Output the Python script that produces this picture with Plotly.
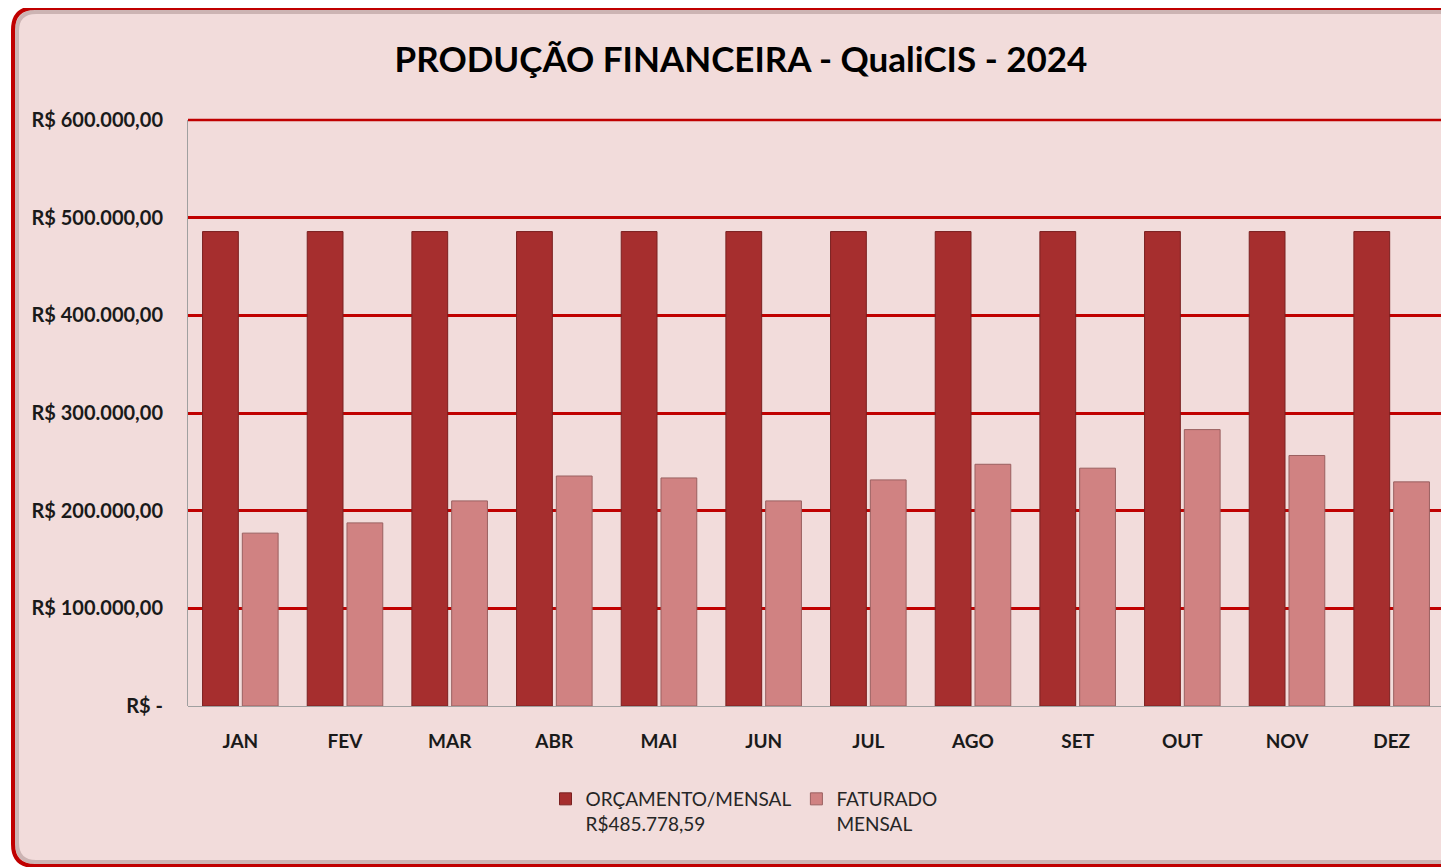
import plotly.graph_objects as go

months = ["JAN", "FEV", "MAR", "ABR", "MAI", "JUN", "JUL", "AGO", "SET", "OUT", "NOV", "DEZ"]
orcamento = [485778.59] * 12
faturado = [177000, 187500, 210000, 235500, 233500, 210000, 231500, 247500, 243500, 283000, 256500, 229500]
y_ticks = [0, 100000, 200000, 300000, 400000, 500000, 600000]
y_tick_labels = ["R$ -", "R$ 100.000,00", "R$ 200.000,00", "R$ 300.000,00",
                 "R$ 400.000,00", "R$ 500.000,00", "R$ 600.000,00"]

OFF = 8  # page body margin
W, H = 1449 - OFF, 867 - OFF
L, R, T, B = 188 - OFF, 5, 120 - OFF, 161
pw, ph = W - L - R, H - T - B

def px(x):
    return (x - OFF - L) / pw

def py(y):
    return (H - B - (y - OFF)) / ph

FONT = "Lato"

fig = go.Figure()
fig.add_trace(go.Bar(
    x=months, y=orcamento, name="ORÇAMENTO/MENSAL<br>R$485.778,59",
    marker=dict(color="#a62e2e", line=dict(color="#7a2020", width=1)),
))
fig.add_trace(go.Bar(
    x=months, y=faturado, name="FATURADO<br>MENSAL",
    marker=dict(color="#d08282", line=dict(color="#9a6060", width=1)),
))

# rounded border
def rounded(xa, ya, xb, yb, r):
    x0, x1 = px(xa), px(xb)
    y0, y1 = py(ya), py(yb)
    rx, ry = r / pw, r / ph
    return (f"M {x0+rx},{y0} L {x1-rx},{y0} Q {x1},{y0} {x1},{y0-ry} "
            f"L {x1},{y1+ry} Q {x1},{y1} {x1-rx},{y1} L {x0+rx},{y1} "
            f"Q {x0},{y1} {x0},{y1+ry} L {x0},{y0-ry} Q {x0},{y0} {x0+rx},{y0} Z")

fig.add_shape(type="path", path=rounded(13, 8, 1480, 866, 22), xref="paper", yref="paper",
              fillcolor="#f2dcdb", line=dict(color="#c00000", width=4), layer="below")
fig.add_shape(type="path", path=rounded(17, 12, 1476, 862, 19), xref="paper", yref="paper",
              fillcolor="rgba(0,0,0,0)", line=dict(color="rgba(90,60,60,0.25)", width=4),
              layer="below")
# top gridline at the range edge (paper ref so it is not clipped)
fig.add_shape(type="line", xref="paper", yref="paper", x0=0, x1=1, y0=1, y1=1,
              line=dict(color="#c00000", width=2.5), layer="below")

fig.update_layout(
    width=W, height=H,
    margin=dict(l=L, r=R, t=T, b=B, autoexpand=False),
    paper_bgcolor="white",
    plot_bgcolor="rgba(0,0,0,0)",
    title=dict(text="<b>PRODUÇÃO FINANCEIRA - QualiCIS - 2024</b>",
               x=(741 - OFF) / W, xanchor="center", y=1 - (60 - OFF) / H, yanchor="middle",
               font=dict(family=FONT, size=35, color="#000000")),
    barmode="group", bargap=0.24, bargroupgap=0.1,
    font=dict(family=FONT, color="#1a1a1a"),
    xaxis=dict(showgrid=False, showline=False, ticks="",
               tickfont=dict(family=FONT, size=19, color="#1a1a1a", weight="bold"),
               ticklabelstandoff=22),
    yaxis=dict(range=[0, 600000], tickvals=y_ticks, ticktext=y_tick_labels,
               showgrid=True, gridcolor="#c00000", gridwidth=2.5,
               showline=True, linecolor="#a0a0a0", linewidth=1,
               zeroline=True, zerolinecolor="#a0a0a0", zerolinewidth=1,
               tickfont=dict(family=FONT, size=20, color="#1a1a1a", weight="bold"),
               ticklabelstandoff=20),
    legend=dict(orientation="h", x=px(744), xanchor="center", y=py(780), yanchor="top",
                font=dict(family=FONT, size=19, color="#262626"),
                bgcolor="rgba(0,0,0,0)", itemwidth=30, traceorder="normal",
                valign="top"),
    showlegend=True,
)

fig.write_html("out.html")
